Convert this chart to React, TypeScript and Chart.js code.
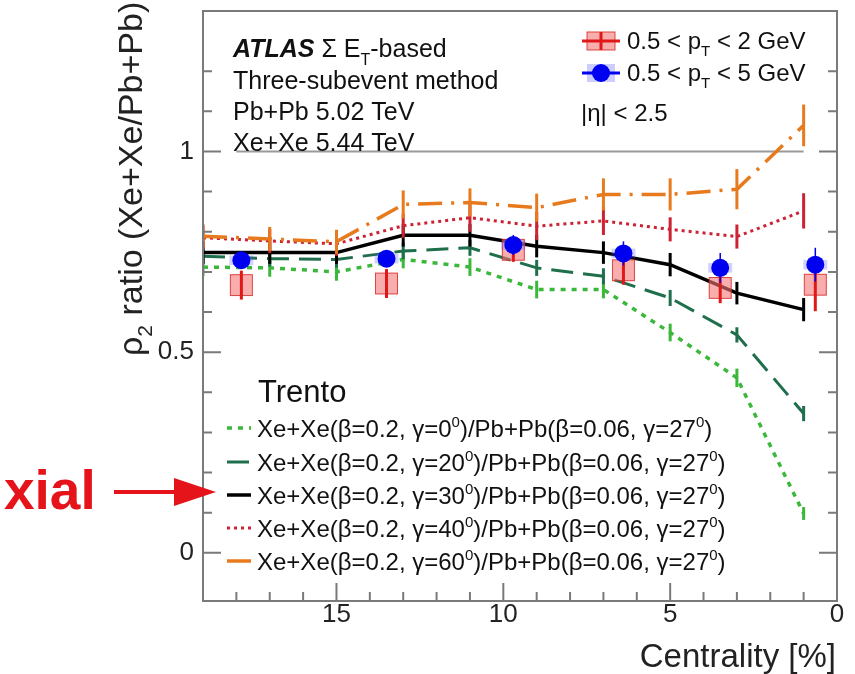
import React, { useEffect, useRef } from "react";
import { Chart, registerables } from "chart.js";

Chart.register(...registerables);

// ---------------- data ----------------
const modelCentrality = [19, 17, 15, 13, 11, 9, 7, 5, 3, 1];
const trentoGamma0 = [0.712, 0.71, 0.7, 0.731, 0.712, 0.656, 0.656, 0.549, 0.436, 0.098];
const trentoGamma0Err = [0.022, 0.022, 0.022, 0.022, 0.022, 0.022, 0.022, 0.022, 0.023, 0.016];
const trentoGamma20 = [0.739, 0.733, 0.731, 0.752, 0.76, 0.71, 0.689, 0.635, 0.543, 0.347];
const trentoGamma20Err = [0.02, 0.02, 0.02, 0.02, 0.02, 0.02, 0.02, 0.02, 0.019, 0.019];
const trentoGamma30 = [0.748, 0.748, 0.748, 0.791, 0.791, 0.764, 0.748, 0.718, 0.647, 0.606];
const trentoGamma30Err = [0.028, 0.028, 0.028, 0.028, 0.028, 0.028, 0.028, 0.029, 0.028, 0.029];
const trentoGamma40 = [0.785, 0.777, 0.77, 0.815, 0.835, 0.814, 0.827, 0.806, 0.788, 0.852];
const trentoGamma40Err = [0.03, 0.03, 0.03, 0.03, 0.035, 0.035, 0.035, 0.03, 0.03, 0.044];
const trentoGamma60 = [0.789, 0.782, 0.775, 0.868, 0.873, 0.86, 0.893, 0.893, 0.906, 1.065];
const trentoGamma60Err = [0.03, 0.03, 0.03, 0.035, 0.035, 0.035, 0.04, 0.04, 0.05, 0.052];

const dataCentrality = [17.85, 13.5, 9.7, 6.4, 3.5, 0.65];
const ratioPt2 = [0.667, 0.671, 0.755, 0.704, 0.66, 0.668];
const ratioPt2Stat = [0.036, 0.036, 0.03, 0.036, 0.038, 0.066];
const ratioPt2Syst = [0.026, 0.026, 0.026, 0.026, 0.026, 0.026];
const ratioPt5 = [0.729, 0.733, 0.767, 0.746, 0.71, 0.718];
const ratioPt5Stat = [0.02, 0.02, 0.025, 0.03, 0.037, 0.042];
const ratioPt5Syst = [0.012, 0.012, 0.012, 0.012, 0.012, 0.012];

const unityX = [18, 1];
const unityY = [1, 1];

const xTickValues = [15, 10, 5, 0];
const xTickLabels = ["15", "10", "5", "0"];
const yTickValues = [0, 0.5, 1];
const yTickLabels = ["0", "0.5", "1"];

const gammaValues = ["0", "20", "30", "40", "60"];

// ---------------- styles ----------------
const FONT = '"Liberation Sans", Arial, Helvetica, sans-serif';
const GREEN = "#3bb83b";
const TEAL = "#1f6e4c";
const BLACK = "#000000";
const RED_DOT = "#cc2233";
const ORANGE = "#e87a1e";
const BLUE = "#0000f0";
const RED = "#e01818";
const PINK = "rgba(245,120,120,0.6)";
const PINK_EDGE = "rgba(215,40,40,0.85)";
const FRAME = "#7a7a7a";
const ARROW = "#e5141b";

const modelStyles = [
  { color: GREEN, dash: [5, 6], width: 3.5 },
  { color: TEAL, dash: [22, 10], width: 3 },
  { color: BLACK, dash: [], width: 3.5 },
  { color: RED_DOT, dash: [3, 4], width: 3 },
  { color: ORANGE, dash: [24, 9, 3, 9], width: 3.5 },
];

const labelFor = (vals: number[], labs: string[]) => (v: number | string) => {
  const n = Number(v);
  const k = vals.findIndex((t) => Math.abs(t - n) < 1e-6);
  return k >= 0 ? labs[k] : "";
};
const xLabel = labelFor(xTickValues, xTickLabels);
const yLabel = labelFor(yTickValues, yTickLabels);

type Seg = { t: string; v?: "sub" | "sup"; w?: string };

function segFont(s: Seg, size: number) {
  const fs = s.v ? Math.round(size * 0.62) : size;
  return `${s.w ?? "normal"} ${fs}px ${FONT}`;
}
function richWidth(ctx: CanvasRenderingContext2D, segs: Seg[], size: number) {
  let w = 0;
  for (const s of segs) {
    ctx.font = segFont(s, size);
    w += ctx.measureText(s.t).width;
  }
  return w;
}
function drawRich(
  ctx: CanvasRenderingContext2D,
  segs: Seg[],
  x: number,
  y: number,
  size: number,
  color: string,
  align: "left" | "right" = "left"
) {
  ctx.save();
  ctx.fillStyle = color;
  ctx.textBaseline = "alphabetic";
  ctx.textAlign = "left";
  let cx = align === "right" ? x - richWidth(ctx, segs, size) : x;
  for (const s of segs) {
    ctx.font = segFont(s, size);
    const dy = s.v === "sub" ? size * 0.3 : s.v === "sup" ? -size * 0.42 : 0;
    ctx.fillText(s.t, cx, y + dy);
    cx += ctx.measureText(s.t).width;
  }
  ctx.restore();
}

function styledLine(ctx: CanvasRenderingContext2D, x1: number, y1: number, x2: number, y2: number, color: string, width: number, dash: number[]) {
  ctx.save();
  ctx.strokeStyle = color;
  ctx.lineWidth = width;
  ctx.setLineDash(dash);
  ctx.beginPath();
  ctx.moveTo(x1, y1);
  ctx.lineTo(x2, y2);
  ctx.stroke();
  ctx.restore();
}

const overlayPlugin = {
  id: "atlasOverlay",
  beforeDatasetDraw(chart: any, args: any) {
    const ds = chart.data.datasets[args.index];
    if (!ds.syst) return;
    const ctx: CanvasRenderingContext2D = chart.ctx;
    const xs = chart.scales.x;
    const ys = chart.scales.y;
    if (ds.systKind === "band") {
      ctx.save();
      ctx.fillStyle = "rgba(90,90,255,0.28)";
      ds.data.forEach((p: any, i: number) => {
        const px = xs.getPixelForValue(p.x);
        const y1 = ys.getPixelForValue(p.y + ds.syst[i]);
        const y2 = ys.getPixelForValue(p.y - ds.syst[i]);
        ctx.fillRect(px - 12, y1, 24, y2 - y1);
      });
      ctx.restore();
    } else {
      ctx.save();
      ds.data.forEach((p: any, i: number) => {
        const px = xs.getPixelForValue(p.x);
        const y1 = ys.getPixelForValue(p.y + ds.syst[i]);
        const y2 = ys.getPixelForValue(p.y - ds.syst[i]);
        ctx.fillStyle = PINK;
        ctx.fillRect(px - 11, y1, 22, y2 - y1);
        ctx.strokeStyle = PINK_EDGE;
        ctx.lineWidth = 1;
        ctx.strokeRect(px - 11, y1, 22, y2 - y1);
      });
      ctx.restore();
    }
  },
  afterDatasetDraw(chart: any, args: any) {
    const ds = chart.data.datasets[args.index];
    if (!ds.errs) return;
    const ctx: CanvasRenderingContext2D = chart.ctx;
    const xs = chart.scales.x;
    const ys = chart.scales.y;
    const a = chart.chartArea;
    ctx.save();
    ctx.beginPath();
    ctx.rect(a.left, a.top, a.right - a.left, a.bottom - a.top);
    ctx.clip();
    ctx.strokeStyle = ds.errColor;
    ctx.lineWidth = ds.errWidth;
    ctx.setLineDash([]);
    ds.data.forEach((p: any, i: number) => {
      const px = xs.getPixelForValue(p.x);
      ctx.beginPath();
      ctx.moveTo(px, ys.getPixelForValue(p.y - ds.errs[i]));
      ctx.lineTo(px, ys.getPixelForValue(p.y + ds.errs[i]));
      ctx.stroke();
    });
    ctx.restore();
  },
  afterDraw(chart: any) {
    const ctx: CanvasRenderingContext2D = chart.ctx;
    const a = chart.chartArea;
    const xs = chart.scales.x;
    const ys = chart.scales.y;

    // frame
    ctx.save();
    ctx.strokeStyle = FRAME;
    ctx.lineWidth = 2;
    ctx.setLineDash([]);
    ctx.strokeRect(a.left, a.top, a.right - a.left, a.bottom - a.top);
    // inward ticks
    ctx.beginPath();
    ys.ticks.forEach((t: any) => {
      const py = ys.getPixelForValue(t.value);
      if (py < a.top + 2 || py > a.bottom - 2) return;
      const len = yLabel(t.value) ? 18 : 9;
      ctx.moveTo(a.left, py);
      ctx.lineTo(a.left + len, py);
      ctx.moveTo(a.right, py);
      ctx.lineTo(a.right - len, py);
    });
    xs.ticks.forEach((t: any) => {
      const px = xs.getPixelForValue(t.value);
      if (px < a.left + 2 || px > a.right - 2) return;
      const len = xLabel(t.value) ? 18 : 9;
      ctx.moveTo(px, a.bottom);
      ctx.lineTo(px, a.bottom - len);
    });
    ctx.stroke();
    ctx.restore();

    // top-left text
    const TL = 25;
    drawRich(ctx, [{ t: "ATLAS", w: "italic bold" }, { t: " Σ E" }, { t: "T", v: "sub" }, { t: "-based" }], 233, 57, TL, "#111");
    drawRich(ctx, [{ t: "Three-subevent method" }], 233, 89, TL, "#111");
    drawRich(ctx, [{ t: "Pb+Pb 5.02 TeV" }], 233, 120, TL, "#111");
    drawRich(ctx, [{ t: "Xe+Xe 5.44 TeV" }], 233, 151, TL, "#111");

    // top-right legend
    const LR = 24;
    const sx = 601;
    ctx.save();
    ctx.fillStyle = PINK;
    ctx.fillRect(sx - 14, 32, 28, 18);
    ctx.strokeStyle = PINK_EDGE;
    ctx.lineWidth = 1;
    ctx.strokeRect(sx - 14, 32, 28, 18);
    ctx.restore();
    styledLine(ctx, sx - 19, 41, sx + 19, 41, RED, 3, []);
    styledLine(ctx, sx, 32, sx, 50, RED, 3, []);
    drawRich(ctx, [{ t: "0.5 < p" }, { t: "T", v: "sub" }, { t: " < 2 GeV" }], 627, 49, LR, "#111");
    ctx.save();
    ctx.fillStyle = "rgba(90,90,255,0.3)";
    ctx.fillRect(sx - 14, 64, 28, 18);
    ctx.restore();
    styledLine(ctx, sx - 19, 73, sx + 19, 73, BLUE, 3, []);
    ctx.save();
    ctx.fillStyle = BLUE;
    ctx.beginPath();
    ctx.arc(sx, 73, 9, 0, Math.PI * 2);
    ctx.fill();
    ctx.restore();
    drawRich(ctx, [{ t: "0.5 < p" }, { t: "T", v: "sub" }, { t: " < 5 GeV" }], 627, 81, LR, "#111");
    drawRich(ctx, [{ t: "|η| < 2.5" }], 581, 121, LR, "#111");

    // Trento legend
    drawRich(ctx, [{ t: "Trento" }], 258, 402, 31, "#111");
    const rowsY = [428, 462, 495, 528, 561];
    gammaValues.forEach((g, i) => {
      const st = modelStyles[i];
      styledLine(ctx, 227, rowsY[i], 251, rowsY[i], st.color, st.width, st.dash);
      drawRich(
        ctx,
        [
          { t: "Xe+Xe(β=0.2, γ=" + g },
          { t: "0", v: "sup" },
          { t: ")/Pb+Pb(β=0.06, γ=27" },
          { t: "0", v: "sup" },
          { t: ")" },
        ],
        257,
        rowsY[i] + 9,
        24,
        "#111"
      );
    });

    // axis titles
    drawRich(ctx, [{ t: "Centrality [%]" }], 836, 667, 33, "#222", "right");
    ctx.save();
    ctx.translate(142, 356);
    ctx.rotate(-Math.PI / 2);
    drawRich(ctx, [{ t: "ρ" }, { t: "2", v: "sub" }, { t: " ratio (Xe+Xe/Pb+Pb)" }], 0, 0, 34, "#222");
    ctx.restore();

    // red annotation arrow
    ctx.save();
    ctx.fillStyle = ARROW;
    ctx.font = `bold 55px ${FONT}`;
    ctx.textBaseline = "alphabetic";
    ctx.fillText("xial", 4, 509);
    ctx.strokeStyle = ARROW;
    ctx.lineWidth = 4;
    ctx.beginPath();
    ctx.moveTo(114, 492);
    ctx.lineTo(178, 492);
    ctx.stroke();
    ctx.beginPath();
    ctx.moveTo(174, 478);
    ctx.lineTo(216, 492);
    ctx.lineTo(174, 506);
    ctx.closePath();
    ctx.fill();
    ctx.restore();
  },
};

function xy(xs: number[], ys: number[]) {
  return xs.map((x, i) => ({ x, y: ys[i] }));
}

export default function App() {
  const ref = useRef<HTMLCanvasElement>(null);
  useEffect(() => {
    const canvas = ref.current;
    if (!canvas) return;
    const models = [trentoGamma0, trentoGamma20, trentoGamma30, trentoGamma40, trentoGamma60];
    const modelErrs = [trentoGamma0Err, trentoGamma20Err, trentoGamma30Err, trentoGamma40Err, trentoGamma60Err];
    const modelSets = models
      .map((vals, i) => ({
        label: "γ=" + gammaValues[i],
        data: xy(modelCentrality, vals),
        borderColor: modelStyles[i].color,
        borderWidth: modelStyles[i].width,
        borderDash: modelStyles[i].dash,
        pointRadius: 0,
        tension: 0,
        fill: false,
        errs: modelErrs[i],
        errColor: modelStyles[i].color,
        errWidth: 3,
      }))
      .reverse();
    const chart = new Chart(canvas, {
      type: "line",
      data: {
        datasets: [
          {
            label: "0.5<pT<5",
            data: xy(dataCentrality, ratioPt5),
            showLine: false,
            pointRadius: 9,
            pointStyle: "circle",
            backgroundColor: BLUE,
            borderColor: BLUE,
            borderWidth: 0,
            errs: ratioPt5Stat,
            errColor: BLUE,
            errWidth: 1.5,
            syst: ratioPt5Syst,
            systKind: "band",
          } as any,
          {
            label: "0.5<pT<2",
            data: xy(dataCentrality, ratioPt2),
            showLine: false,
            pointRadius: 0,
            errs: ratioPt2Stat,
            errColor: RED,
            errWidth: 3,
            syst: ratioPt2Syst,
            systKind: "box",
          } as any,
          ...(modelSets as any[]),
          {
            label: "unity",
            data: xy(unityX, unityY),
            borderColor: "#9a9a9a",
            borderWidth: 2,
            pointRadius: 0,
          } as any,
        ],
      },
      options: {
        responsive: false,
        animation: false,
        devicePixelRatio: 1,
        layout: { padding: { left: 0, top: 11, right: 18, bottom: 0 } },
        plugins: {
          legend: { display: false },
          tooltip: { enabled: false },
          title: { display: false },
        },
        scales: {
          x: {
            type: "linear",
            min: 0,
            max: 19,
            reverse: true,
            grid: { display: false, drawTicks: false },
            border: { display: false },
            ticks: {
              stepSize: 1,
              autoSkip: false,
              maxRotation: 0,
              minRotation: 0,
              padding: -2,
              color: "#222",
              font: { size: 26, family: FONT },
              callback: (v: any) => xLabel(v),
            },
            afterFit: (s: any) => {
              s.height = 73;
              s.paddingLeft = 0;
              s.paddingRight = 0;
            },
          },
          y: {
            type: "linear",
            min: -0.12,
            max: 1.35,
            grid: { display: false, drawTicks: false },
            border: { display: false },
            ticks: {
              stepSize: 0.1,
              autoSkip: false,
              padding: 9,
              color: "#222",
              font: { size: 26, family: FONT },
              callback: (v: any) => yLabel(v),
            },
            afterFit: (s: any) => {
              s.width = 203;
              s.paddingTop = 0;
              s.paddingBottom = 0;
            },
          },
        },
      },
      plugins: [overlayPlugin],
    } as any);
    return () => chart.destroy();
  }, []);
  return (
    <canvas
      ref={ref}
      width={855}
      height={674}
      style={{ position: "absolute", left: 0, top: 0, width: 855, height: 674 }}
    />
  );
}
